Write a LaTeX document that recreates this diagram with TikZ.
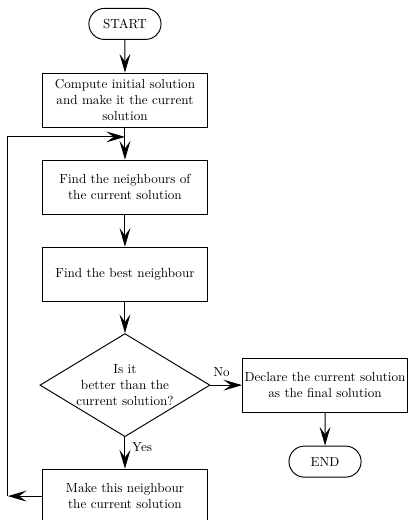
\documentclass[tikz,border=0pt,11pt]{standalone}
\usepackage{amsmath}
\usetikzlibrary{positioning,shapes.geometric,shapes.misc,arrows.meta}

\begin{document}
\begin{tikzpicture}[
    flow/.style={thick,-{Stealth[length=5.5mm,width=3.2mm,inset=2.2mm]}},
    terminal/.style={rounded rectangle,draw,thick,minimum width=2.37cm,minimum height=0.91cm},
    process/.style={rectangle,draw,thick,align=center,minimum width=4.83cm,minimum height=1.58cm,inner sep=1pt},
    decision/.style={diamond,draw,thick,align=center,aspect=1.65,inner sep=0pt,minimum width=4.98cm,minimum height=3.02cm}]
    \useasboundingbox (0,0) rectangle (11.95,-15.23);
    \node (start) [terminal] at (3.66, -0.70) {START};
    \begin{scope}[every node/.style={process}]
      \node (init) at (3.66, -2.93) {Compute initial solution\\and make it the current\\solution};
      \node (neigh) at (3.66, -5.48) {Find the neighbours of\\the current solution};
      \node (best) at (3.66, -8.03) {Find the best neighbour};
      \node (declare) at (9.52, -11.28) {Declare the current solution\\as the final solution};
      \node (make) at (3.66, -14.53) {Make this neighbour\\the current solution};
    \end{scope}
    \node (better) [decision] at (3.66, -11.28) {Is it\\better than the\\current solution?};
    \node (finish) [terminal] at (9.52, -13.52) {END};
    \coordinate (loopbot) at (0.23, -14.53);
    \coordinate (join) at (3.66, -4.01);
    \path (start) edge[flow] (init);
    \path (init) edge[flow] (neigh);
    \path (neigh) edge[flow] (best);
    \path (best) edge[flow] (better);
    \path (better) edge[flow] node[pos=0.35,above=3pt] {No} (declare);
    \path (better) edge[flow] node[pos=0.3,right=2pt] {Yes} (make);
    \path (declare) edge[flow] (finish);
    \path (make) edge[flow] (loopbot);
    \draw[flow] (loopbot) |- (join);
  \end{tikzpicture}
\end{document}
